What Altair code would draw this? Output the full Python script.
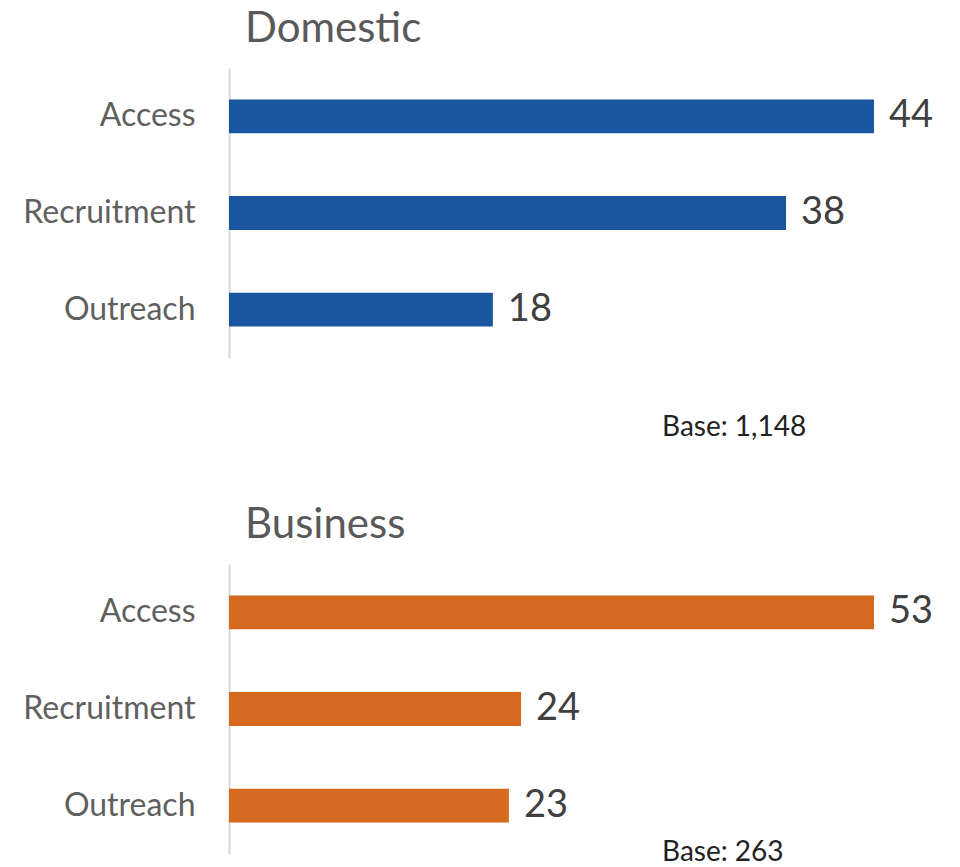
import altair as alt
import pandas as pd

categories = ["Access", "Recruitment", "Outreach"]
domestic_values = [44, 38, 18]
business_values = [53, 24, 23]
panel_titles = ["Domestic", "Business"]
base_labels = ["Base: 1,148", "Base: 263"]
colors = ["#1a56a0", "#d5691f"]

FONT = "Lato"


def panel(title, values, base, color, base_y):
    df = pd.DataFrame({"category": categories, "value": values})
    x = alt.X("value:Q", axis=None,
              scale=alt.Scale(domain=[0, max(values)], nice=False, zero=True))
    y = alt.Y("category:N", sort=categories,
              axis=alt.Axis(title=None, labelFontSize=32, labelColor="#5f5f5f",
                            labelFont=FONT, labelPadding=34, ticks=False,
                            domainColor="#d9d9d9", domainWidth=2, labelLimit=400),
              scale=alt.Scale(paddingInner=0.65, paddingOuter=0.325))
    bars = alt.Chart(df).mark_bar(color=color).encode(x=x, y=y)
    labels = alt.Chart(df).mark_text(
        align="left", baseline="middle", dx=15, fontSize=38, color="#404040", font=FONT
    ).encode(x=x, y=y, text="value:Q")
    base_df = pd.DataFrame({"text": [base]})
    base_text = alt.Chart(base_df).mark_text(
        align="left", baseline="middle", fontSize=28, color="#222222", font=FONT
    ).encode(x=alt.value(433), y=alt.value(base_y), text="text:N")
    return alt.layer(bars, labels, base_text).properties(
        width=645, height=290,
        title=alt.TitleParams(title, anchor="start", frame="group", fontSize=42, font=FONT,
                              color="#595959", fontWeight="normal", dx=16,
                              baseline="alphabetic", offset=-16),
    )


chart = alt.vconcat(
    panel(panel_titles[0], domestic_values, base_labels[0], colors[0], 360),
    panel(panel_titles[1], business_values, base_labels[1], colors[1], 289),
    spacing=206, bounds="flush",
).properties(padding={"left": 22, "top": 8, "right": 5, "bottom": 5}).configure_view(stroke=None)

chart.save("out.html", embed_options={"renderer": "svg", "actions": False})
